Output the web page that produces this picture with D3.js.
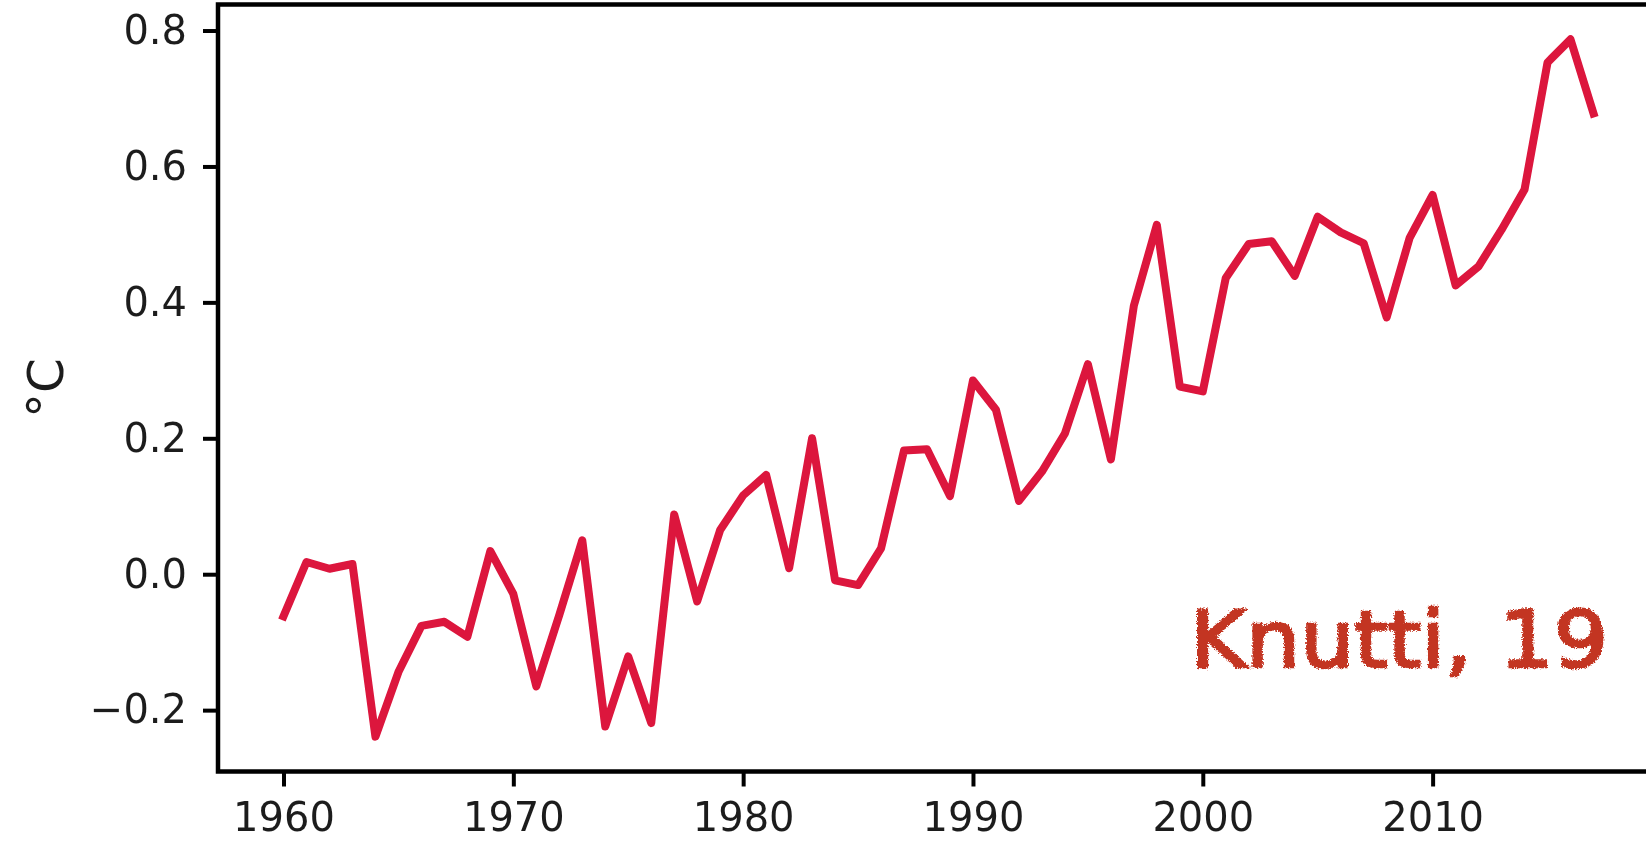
<!DOCTYPE html>
<html>
<head>
<meta charset="utf-8">
<script src="https://cdn.jsdelivr.net/npm/d3@7"></script>
<style>
  html, body { margin: 0; padding: 0; background: #fff; overflow: hidden; }
  svg { display: block; }
</style>
</head>
<body>
<svg id="chart" width="1646" height="847"></svg>
<script>
// Annual global mean temperature anomaly (°C)
const years = [1960,1961,1962,1963,1964,1965,1966,1967,1968,1969,
               1970,1971,1972,1973,1974,1975,1976,1977,1978,1979,
               1980,1981,1982,1983,1984,1985,1986,1987,1988,1989,
               1990,1991,1992,1993,1994,1995,1996,1997,1998,1999,
               2000,2001,2002,2003,2004,2005,2006,2007,2008,2009,
               2010,2011,2012,2013,2014,2015,2016,2017];
const anomaly = [-0.062, 0.018, 0.008, 0.015,-0.239,-0.144,-0.076,-0.070,-0.092, 0.034,
                 -0.029,-0.165,-0.060, 0.050,-0.224,-0.121,-0.219, 0.088,-0.040, 0.065,
                  0.116, 0.146, 0.009, 0.200,-0.009,-0.016, 0.038, 0.182, 0.184, 0.115,
                  0.285, 0.242, 0.108, 0.151, 0.207, 0.309, 0.169, 0.395, 0.514, 0.276,
                  0.269, 0.436, 0.486, 0.490, 0.439, 0.526, 0.503, 0.487, 0.378, 0.495,
                  0.558, 0.425, 0.453, 0.507, 0.566, 0.753, 0.787, 0.678];
const yTicks = [-0.2, 0.0, 0.2, 0.4, 0.6, 0.8];
const xTicks = [1960, 1970, 1980, 1990, 2000, 2010];
const yLabel = "°C";
const credit = "Knutti, 19";

const svg = d3.select("#chart");
const plot = { left: 218, right: 1659, top: 4.5, bottom: 771.5 };

// 5% padding around the data range on both axes
const xExt = d3.extent(years), yExt = d3.extent(anomaly);
const xPad = (xExt[1] - xExt[0]) * 0.05, yPad = (yExt[1] - yExt[0]) * 0.05;
const x = d3.scaleLinear().domain([xExt[0] - xPad, xExt[1] + xPad]).range([plot.left, plot.right]);
const y = d3.scaleLinear().domain([yExt[0] - yPad, yExt[1] + yPad]).range([plot.bottom, plot.top]);

const defs = svg.append("defs");
defs.append("filter").attr("id", "soft")
  .append("feGaussianBlur").attr("stdDeviation", 0.7);
const rough = defs.append("filter").attr("id", "rough")
  .attr("x", "-5%").attr("y", "-20%").attr("width", "110%").attr("height", "140%");
rough.append("feTurbulence").attr("type", "fractalNoise")
  .attr("baseFrequency", 0.7).attr("numOctaves", 2).attr("seed", 3).attr("result", "noise");
rough.append("feDisplacementMap").attr("in", "SourceGraphic").attr("in2", "noise")
  .attr("scale", 5).attr("xChannelSelector", "R").attr("yChannelSelector", "G");

const g = svg.append("g").attr("filter", "url(#soft)");

// temperature line
const line = d3.line().x((d, i) => x(years[i])).y(d => y(d));
g.append("path")
  .datum(anomaly)
  .attr("d", line)
  .attr("fill", "none")
  .attr("stroke", "#dc143c")
  .attr("stroke-width", 8)
  .attr("stroke-linejoin", "round")
  .attr("stroke-linecap", "square");

// axes
const fmtY = v => (v < 0 ? "\u2212" : "") + Math.abs(v).toFixed(1);
const yAxis = g.append("g")
  .attr("transform", `translate(${plot.left},0)`)
  .call(d3.axisLeft(y).tickValues(yTicks).tickFormat(fmtY).tickSize(15).tickPadding(16));
const xAxis = g.append("g")
  .attr("transform", `translate(0,${plot.bottom})`)
  .call(d3.axisBottom(x).tickValues(xTicks).tickFormat(d3.format("d")).tickSize(15).tickPadding(16));

[xAxis, yAxis].forEach(a => {
  a.select(".domain").remove();
  a.selectAll(".tick line").attr("stroke", "#000").attr("stroke-width", 4);
  a.selectAll(".tick text")
    .attr("fill", "#1e1e1e")
    .style("font-family", "'DejaVu Sans', sans-serif")
    .style("font-size", "40px");
});

// axes frame
g.append("rect")
  .attr("x", plot.left).attr("y", plot.top)
  .attr("width", plot.right - plot.left).attr("height", plot.bottom - plot.top)
  .attr("fill", "none").attr("stroke", "#000").attr("stroke-width", 4.5);

// y-axis label
g.append("text")
  .attr("transform", `translate(63,${(plot.top + plot.bottom) / 2}) rotate(-90)`)
  .attr("text-anchor", "middle")
  .attr("fill", "#1e1e1e")
  .style("font-family", "'DejaVu Sans', sans-serif")
  .style("font-size", "50px")
  .text(yLabel);

// handwritten credit
svg.append("text")
  .attr("x", 1190).attr("y", 667)
  .attr("textLength", 418).attr("lengthAdjust", "spacingAndGlyphs")
  .attr("fill", "#c33523")
  .attr("stroke", "#c33523").attr("stroke-width", 2.5)
  .attr("filter", "url(#rough)")
  .style("font-family", "'DejaVu Sans', sans-serif")
  .style("font-size", "78px")
  .text(credit);
</script>
</body>
</html>
